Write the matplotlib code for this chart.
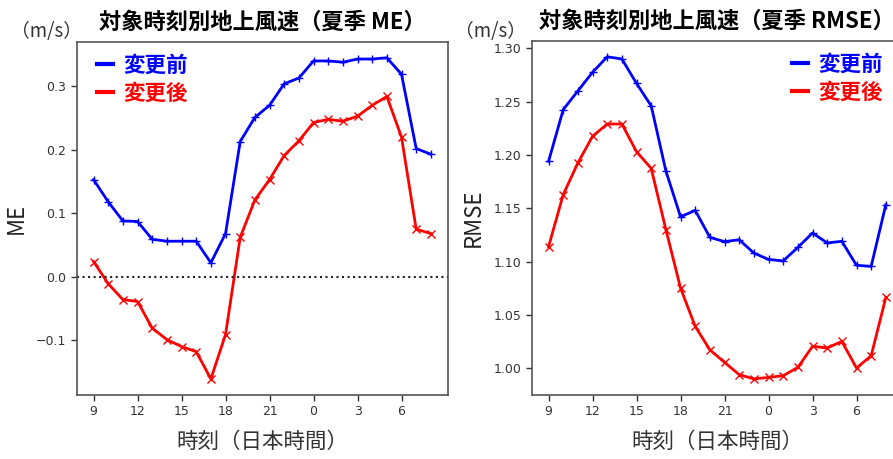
import numpy as np
import matplotlib
matplotlib.use("Agg")
import matplotlib.pyplot as plt
from matplotlib.lines import Line2D

plt.rcParams['font.family'] = ['DejaVu Sans', 'Noto Sans CJK JP']

# ---- data ----
hours = [9, 10, 11, 12, 13, 14, 15, 16, 17, 18, 19, 20, 21, 22, 23,
         0, 1, 2, 3, 4, 5, 6, 7, 8]
tick_hours = [9, 12, 15, 18, 21, 0, 3, 6]

me_before = [0.153, 0.118, 0.088, 0.087, 0.059, 0.056, 0.056, 0.056, 0.022, 0.068,
             0.213, 0.251, 0.270, 0.304, 0.313, 0.340, 0.340, 0.338, 0.343, 0.343,
             0.345, 0.319, 0.202, 0.193]
me_after = [0.024, -0.011, -0.036, -0.039, -0.081, -0.099, -0.110, -0.118, -0.161, -0.091,
            0.062, 0.121, 0.153, 0.191, 0.214, 0.243, 0.248, 0.245, 0.253, 0.270,
            0.284, 0.220, 0.075, 0.068]

rmse_before = [1.194, 1.2425, 1.260, 1.2775, 1.292, 1.290, 1.267, 1.246, 1.185, 1.142,
               1.148, 1.1227, 1.1187, 1.1205, 1.108, 1.102, 1.1006, 1.1133, 1.1268, 1.1175,
               1.119, 1.0965, 1.0955, 1.1534]
rmse_after = [1.114, 1.1628, 1.1925, 1.2175, 1.229, 1.229, 1.203, 1.1874, 1.130, 1.0752,
              1.0392, 1.0173, 1.0055, 0.994, 0.990, 0.9914, 0.993, 1.0008, 1.0205, 1.019,
              1.0251, 1.0002, 1.0117, 1.0664]

labels = ['変更前', '変更後']
colors = ['#0000FF', '#FF0000']
titles = ['対象時刻別地上風速（夏季 ME）', '対象時刻別地上風速（夏季 RMSE）']
ylabels = ['ME', 'RMSE']
xlabel = '時刻（日本時間）'
unit = '（m/s）'

cjk = ['Noto Sans CJK JP', 'DejaVu Sans']

W, H = 893, 459
fig = plt.figure(figsize=(W / 100, H / 100), dpi=100)
ax1 = fig.add_axes([76.7 / W, (H - 395) / H, 371 / W, 353.3 / H])
ax2 = fig.add_axes([531.7 / W, (H - 395) / H, 371 / W, 354.3 / H])

x = np.arange(len(hours))
tick_pos = [hours.index(h) for h in tick_hours]

datasets = [(me_before, me_after), (rmse_before, rmse_after)]
for i, (ax, (b, a)) in enumerate(zip([ax1, ax2], datasets)):
    ax.plot(x, b, color=colors[0], lw=2.0, marker='+', ms=6, mew=1.0)
    ax.plot(x, a, color=colors[1], lw=2.0, marker='x', ms=6, mew=1.0)
    ax.set_xticks(tick_pos)
    ax.set_xticklabels([str(h) for h in tick_hours])
    ax.tick_params(labelsize=9, colors='#333333', length=4, width=1)
    for s in ax.spines.values():
        s.set_color('#555555')
        s.set_linewidth(1.2)
    ax.set_title(titles[i], fontsize=16, fontweight='bold', family=cjk, pad=9)
    ax.set_xlabel(xlabel, fontsize=15.5, family=cjk, color='#333333', labelpad=9)
    ax.set_ylabel(ylabels[i], fontsize=16, family=cjk, color='#222222', labelpad=6)
    handles = [Line2D([], [], color=c, lw=3) for c in colors]
    if i == 0:
        leg = ax.legend(handles, labels, loc='upper left', bbox_to_anchor=(0.054, 0.963),
                        borderaxespad=0, borderpad=0, frameon=False, handlelength=0.75,
                        handletextpad=0.5, labelspacing=0.3,
                        prop={'family': cjk, 'size': 15.5, 'weight': 'bold'})
    else:
        leg = ax.legend(handles, labels, loc='upper right', bbox_to_anchor=(0.947, 0.963),
                        borderaxespad=0, borderpad=0, frameon=False, handlelength=0.75,
                        handletextpad=0.5, labelspacing=0.3,
                        prop={'family': cjk, 'size': 15.5, 'weight': 'bold'})
    for t, c in zip(leg.get_texts(), colors):
        t.set_color(c)

ax1.axhline(0, color='#222222', lw=1.5, ls=':')

fig.text(46 / W, 1 - 32 / H, unit, fontsize=13.5, family=cjk, color='#333333',
         ha='center', va='center')
fig.text(491 / W, 1 - 32 / H, unit, fontsize=13.5, family=cjk, color='#333333',
         ha='center', va='center')

fig.savefig('out.png', dpi=100)
